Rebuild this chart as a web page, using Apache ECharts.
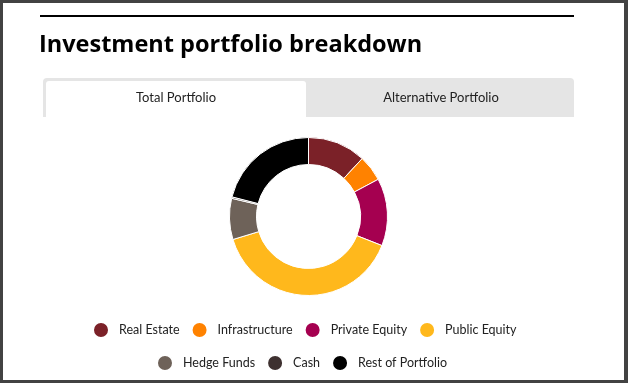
<!DOCTYPE html>
<html>
<head>
<meta charset="utf-8">
<script src="https://cdn.jsdelivr.net/npm/echarts@6/dist/echarts.min.js"></script>
<style>
  html, body { margin: 0; padding: 0; background: #fff; }
  #chart { width: 628px; height: 383px; }
</style>
</head>
<body>
<div id="chart"></div>
<script>
// portfolio breakdown (percent of total portfolio)
const categories = ["Real Estate", "Infrastructure", "Private Equity", "Public Equity", "Hedge Funds", "Cash", "Rest of Portfolio"];
const shares = [11.9, 5.3, 13.8, 39.3, 8.4, 0.3, 21.0];
const colors = ["#7b2128", "#ff8200", "#a50050", "#ffb81c", "#6e6259", "#3e3130", "#000000"];
const tabs = ["Total Portfolio", "Alternative Portfolio"];
const legendRow1 = categories.slice(0, 4);
const legendRow2 = categories.slice(4);

const FONT = "Lato, 'Open Sans', sans-serif";
const chart = echarts.init(document.getElementById("chart"));

function legendOf(names, left, top) {
  return {
    data: names,
    top: top,
    left: left,
    icon: "circle",
    itemWidth: 16,
    itemHeight: 16,
    itemGap: 11,
    selectedMode: false,
    textStyle: { fontFamily: FONT, fontSize: 12.5, color: "#222", padding: [0, 0, 0, 5] }
  };
}

chart.setOption({
  animation: false,
  color: colors,
  legend: [legendOf(legendRow1, 87, 316), legendOf(legendRow2, 151, 349)],
  graphic: [
    // frame
    { type: "rect", shape: { x: 0, y: 0, width: 628, height: 3 }, style: { fill: "#424242" } },
    { type: "rect", shape: { x: 0, y: 380, width: 628, height: 3 }, style: { fill: "#424242" } },
    { type: "rect", shape: { x: 0, y: 0, width: 3, height: 383 }, style: { fill: "#424242" } },
    { type: "rect", shape: { x: 624, y: 0, width: 4, height: 383 }, style: { fill: "#424242" } },
    // rule above the title
    { type: "rect", shape: { x: 40, y: 15, width: 534, height: 2 }, style: { fill: "#000" } },
    {
      type: "text", x: 39, y: 45,
      style: { text: "Investment portfolio breakdown", fontFamily: "'Open Sans', sans-serif", fontWeight: 700, fontSize: 23.5, fill: "#000", verticalAlign: "middle" }
    },
    // tabs
    { type: "rect", shape: { x: 43, y: 78, width: 531, height: 39, r: [4, 4, 0, 0] }, style: { fill: "#e5e5e5" } },
    { type: "rect", shape: { x: 46, y: 81, width: 260, height: 36, r: [3, 3, 0, 0] }, style: { fill: "#fff" } },
    {
      type: "text", x: 176, y: 98,
      style: { text: tabs[0], fontFamily: FONT, fontSize: 13, fill: "#222", align: "center", verticalAlign: "middle" }
    },
    {
      type: "text", x: 441, y: 98,
      style: { text: tabs[1], fontFamily: FONT, fontSize: 13, fill: "#222", align: "center", verticalAlign: "middle" }
    }
  ],
  series: [
    {
      type: "pie",
      center: [308.5, 216.5],
      radius: [52, 79],
      startAngle: 90,
      clockwise: true,
      silent: true,
      label: { show: false },
      labelLine: { show: false },
      itemStyle: { borderColor: "#fff", borderWidth: 1 },
      data: categories.map((name, i) => ({ name: name, value: shares[i] }))
    }
  ]
});
</script>
</body>
</html>
